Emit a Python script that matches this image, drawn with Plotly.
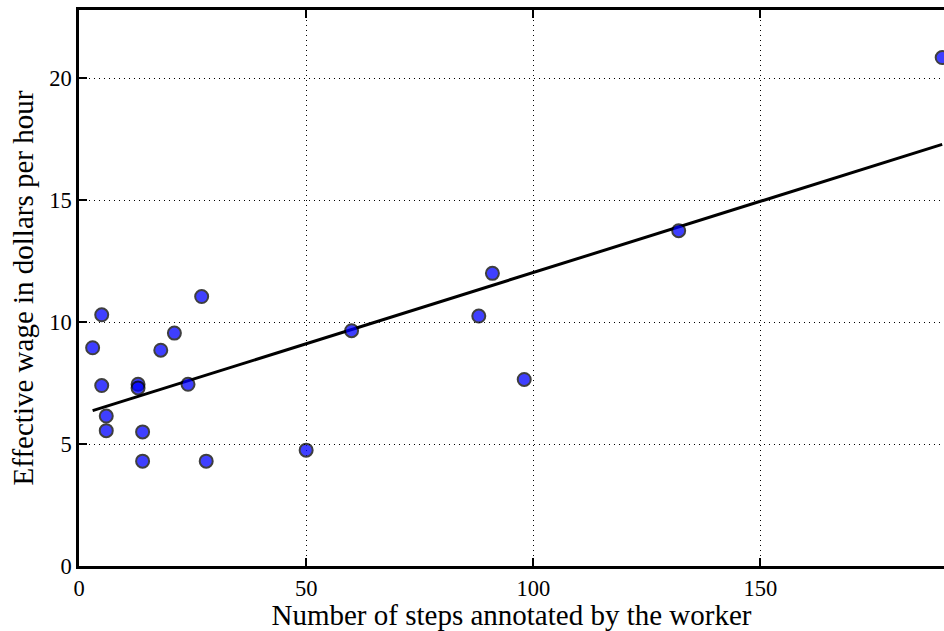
import numpy as np
import plotly.graph_objects as go

steps = [3, 5, 5, 6, 6, 13, 13, 14, 14, 18, 21, 24, 27, 28, 50, 60, 88, 91, 98, 132, 190]
wage = [8.95, 10.3, 7.4, 6.15, 5.55, 7.45, 7.3, 5.5, 4.3, 8.85, 9.55, 7.45, 11.05, 4.3, 4.75, 9.65, 10.25, 12.0, 7.65, 13.75, 20.85]

x_ticks = [0, 50, 100, 150]
y_ticks = [0, 5, 10, 15, 20]

xa = np.array(steps, dtype=float)
ya = np.array(wage, dtype=float)
slope, intercept = np.polyfit(xa, ya, 1)
fit_x = [xa.min(), xa.max()]
fit_y = [slope * v + intercept for v in fit_x]

FONT = "Liberation Serif"

fig = go.Figure()
fig.add_trace(go.Scatter(
    x=fit_x, y=fit_y, mode="lines",
    line=dict(color="black", width=3),
    showlegend=False, hoverinfo="skip", cliponaxis=True,
))
fig.add_trace(go.Scatter(
    x=steps, y=wage, mode="markers",
    marker=dict(size=13, color="rgb(0,0,255)", opacity=0.75,
                line=dict(color="black", width=2)),
    showlegend=False, cliponaxis=True,
))

fig.update_layout(
    width=944, height=631,
    margin=dict(l=79, r=0, t=10, b=65),
    paper_bgcolor="white", plot_bgcolor="white",
    font=dict(family=FONT, color="black", size=22),
    xaxis=dict(
        range=[0, 190.4], tickvals=x_ticks, ticktext=[str(v) for v in x_ticks],
        showline=True, linecolor="black", linewidth=2.5, mirror="ticks",
        ticks="inside", ticklen=8, tickwidth=1.5, tickcolor="black",
        showgrid=True, gridcolor="black", gridwidth=1, griddash="1px,4px",
        zeroline=False, layer="above traces",
        title=dict(text="Number of steps annotated by the worker", font=dict(size=29), standoff=2),
        tickfont=dict(size=22.5),
    ),
    yaxis=dict(
        range=[0, 22.8], tickvals=y_ticks, ticktext=[str(v) for v in y_ticks],
        showline=True, linecolor="black", linewidth=2.5, mirror=False,
        ticks="inside", ticklen=8, tickwidth=1.5, tickcolor="black",
        showgrid=True, gridcolor="black", gridwidth=1, griddash="1px,4px",
        zeroline=False, layer="above traces",
        title=dict(text="Effective wage in dollars per hour", font=dict(size=29), standoff=8),
        tickfont=dict(size=22.5),
    ),
)

fig.write_html("out.html", config={"displayModeBar": False},
               post_script="document.body.style.margin='0';document.body.style.overflow='hidden';")
